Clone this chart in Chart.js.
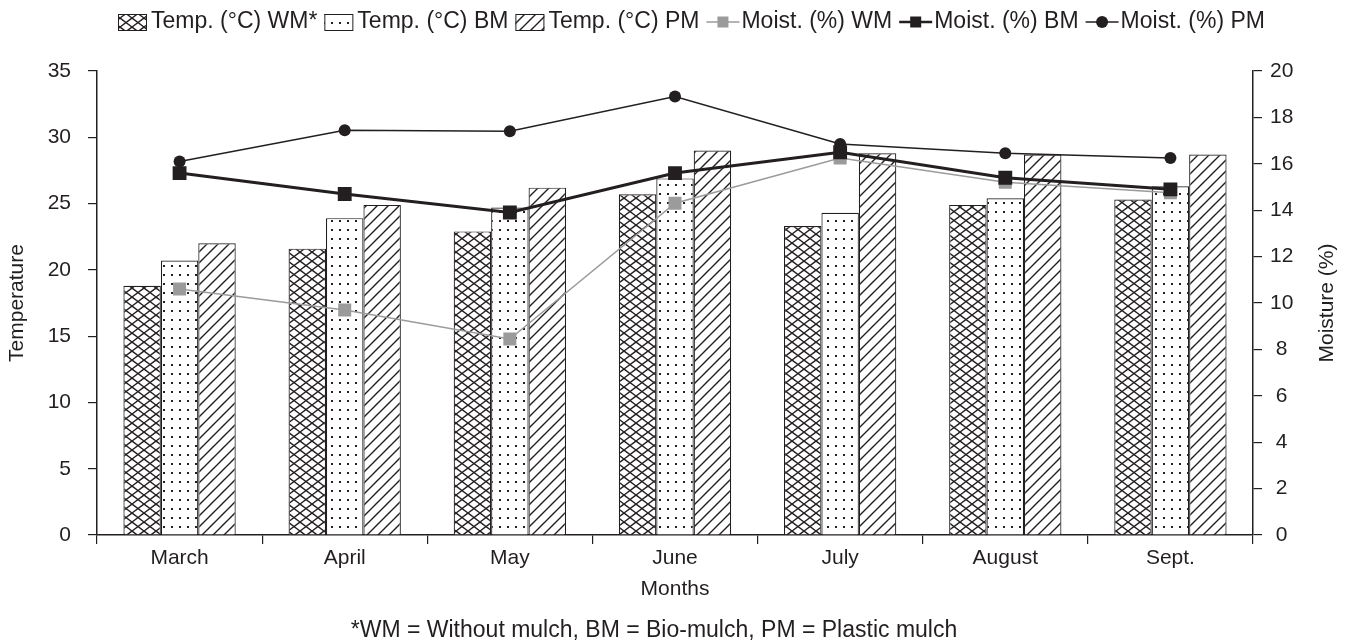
<!DOCTYPE html>
<html>
<head>
<meta charset="utf-8">
<script src="https://cdn.jsdelivr.net/npm/chart.js@4.4.1/dist/chart.umd.min.js"></script>
<style>
  html, body { margin: 0; padding: 0; background: #fff; }
  #wrap { width: 1348px; height: 643px; }
</style>
</head>
<body>
<div id="wrap"><canvas id="moistChart" width="1348" height="643"></canvas></div>
<script>
// dados
const months = ['March', 'April', 'May', 'June', 'July', 'August', 'Sept.'];
const tempWM = [18.8, 21.6, 22.9, 25.7, 23.3, 24.9, 25.3];
const tempBM = [20.7, 23.9, 24.7, 26.9, 24.3, 25.4, 26.3];
const tempPM = [22.0, 24.9, 26.2, 29.0, 28.8, 28.7, 28.7];
const moistWM = [10.6, 9.7, 8.45, 14.3, 16.25, 15.2, 14.75];
const moistBM = [15.6, 14.7, 13.9, 15.6, 16.5, 15.4, 14.9];
const moistPM = [16.1, 17.45, 17.4, 18.9, 16.85, 16.45, 16.25];
const tempTicks = [0, 5, 10, 15, 20, 25, 30, 35];
const moistTicks = [0, 2, 4, 6, 8, 10, 12, 14, 16, 18, 20];

const ink = '#231f20';
const grey = '#9b9b9b';
const fontFam = '"Liberation Sans", Arial, sans-serif';

// padrões das barras
function makeTile(w, h, drawFn) {
    const c = document.createElement('canvas');
    c.width = w; c.height = h;
    const g = c.getContext('2d');
    g.fillStyle = '#fff';
    g.fillRect(0, 0, w, h);
    g.strokeStyle = ink;
    g.fillStyle = ink;
    drawFn(g, w, h);
    return c;
}
const tileCross = makeTile(12, 9, (g, w, h) => {
    g.lineWidth = 1.4;
    g.beginPath();
    g.moveTo(-w, -h); g.lineTo(2 * w, 2 * h);
    g.moveTo(-w, 2 * h); g.lineTo(2 * w, -h);
    g.stroke();
});
const tileDots = makeTile(8, 9, (g) => {
    g.fillRect(3, 4, 2, 2);
});
const tileHatch = makeTile(11, 11, (g, w, h) => {
    g.lineWidth = 1.4;
    g.beginPath();
    g.moveTo(-w, 2 * h); g.lineTo(2 * w, -h);
    g.moveTo(0, 2 * h); g.lineTo(2 * w, 0);
    g.moveTo(-w, h); g.lineTo(w, -h);
    g.stroke();
});
const ctx = document.getElementById('moistChart').getContext('2d');
const patCross = ctx.createPattern(tileCross, 'repeat');
const patDots = ctx.createPattern(tileDots, 'repeat');
const patHatch = ctx.createPattern(tileHatch, 'repeat');

const legendItems = [
    { text: 'Temp. (°C) WM*', kind: 'bar', fill: patCross },
    { text: 'Temp. (°C) BM', kind: 'bar', fill: patDots },
    { text: 'Temp. (°C) PM', kind: 'bar', fill: patHatch },
    { text: 'Moist. (%) WM', kind: 'line', color: grey, lw: 1.5, marker: 'rect' },
    { text: 'Moist. (%) BM', kind: 'line', color: ink, lw: 2.5, marker: 'rect' },
    { text: 'Moist. (%) PM', kind: 'line', color: ink, lw: 1.5, marker: 'circle' }
];

// legenda, título direito e nota de rodapé
const extrasPlugin = {
    id: 'extras',
    afterDraw(chart) {
        const c = chart.ctx;
        c.save();
        c.font = '23px ' + fontFam;
        c.textBaseline = 'middle';
        c.fillStyle = ink;
        let x = 118;
        const yMid = 22;
        legendItems.forEach(item => {
            if (item.kind === 'bar') {
                c.fillStyle = item.fill;
                c.fillRect(x, yMid - 8, 29, 17);
                c.strokeStyle = ink;
                c.lineWidth = 1;
                c.strokeRect(x + 0.5, yMid - 7.5, 28, 16);
                x += 33;
            } else {
                c.strokeStyle = item.color;
                c.lineWidth = item.lw;
                c.beginPath();
                c.moveTo(x, yMid); c.lineTo(x + 33, yMid);
                c.stroke();
                c.fillStyle = item.color;
                if (item.marker === 'rect') {
                    c.fillRect(x + 11, yMid - 5.5, 11, 11);
                } else {
                    c.beginPath();
                    c.arc(x + 16.5, yMid, 6, 0, Math.PI * 2);
                    c.fill();
                }
                x += 35;
            }
            c.fillStyle = ink;
            c.fillText(item.text, x, yMid);
            x += c.measureText(item.text).width + 7;
        });

        // título do eixo direito (lido de baixo para cima)
        c.font = '21px ' + fontFam;
        c.textAlign = 'center';
        c.translate(1327, (chart.chartArea.top + chart.chartArea.bottom) / 2);
        c.rotate(-Math.PI / 2);
        c.fillText('Moisture (%)', 0, 0);
        c.restore();

        c.save();
        c.font = '23px ' + fontFam;
        c.fillStyle = ink;
        c.textAlign = 'center';
        c.textBaseline = 'middle';
        c.fillText('*WM = Without mulch, BM = Bio-mulch, PM = Plastic mulch', 654, 631);
        c.restore();
    }
};

const barBase = {
    type: 'bar',
    yAxisID: 'y',
    borderColor: ink,
    borderWidth: 1.2,
    borderSkipped: 'bottom',
    categoryPercentage: 0.68,
    barPercentage: 1,
    order: 4
};

const moistChart = new Chart(ctx, {
    data: {
        labels: months,
        datasets: [
            { ...barBase, label: 'Temp. (°C) WM*', data: tempWM, backgroundColor: patCross },
            { ...barBase, label: 'Temp. (°C) BM', data: tempBM, backgroundColor: patDots },
            { ...barBase, label: 'Temp. (°C) PM', data: tempPM, backgroundColor: patHatch },
            {
                type: 'line', label: 'Moist. (%) WM', data: moistWM, yAxisID: 'y1',
                borderColor: grey, borderWidth: 1.5, pointStyle: 'rect', pointRadius: 9.2,
                pointBackgroundColor: grey, pointBorderColor: grey, pointBorderWidth: 0,
                tension: 0, order: 2
            },
            {
                type: 'line', label: 'Moist. (%) BM', data: moistBM, yAxisID: 'y1',
                borderColor: ink, borderWidth: 3, pointStyle: 'rect', pointRadius: 9.8,
                pointBackgroundColor: ink, pointBorderColor: ink, pointBorderWidth: 0,
                tension: 0, order: 0
            },
            {
                type: 'line', label: 'Moist. (%) PM', data: moistPM, yAxisID: 'y1',
                borderColor: ink, borderWidth: 1.5, pointStyle: 'circle', pointRadius: 6,
                pointBackgroundColor: ink, pointBorderColor: ink, pointBorderWidth: 0,
                tension: 0, order: 1
            }
        ]
    },
    options: {
        responsive: false,
        animation: false,
        layout: { padding: { top: 71, bottom: 30, left: 0, right: 0 } },
        plugins: {
            legend: { display: false },
            tooltip: { enabled: false }
        },
        scales: {
            x: {
                offset: true,
                grid: { display: true, offset: true, drawOnChartArea: false, drawTicks: true, tickLength: 9, color: ink, lineWidth: 1.2 },
                border: { display: true, color: ink, width: 1.5 },
                ticks: { color: ink, font: { family: fontFam, size: 21 }, padding: 2 },
                title: { display: true, text: 'Months', color: ink, font: { family: fontFam, size: 21 }, padding: { top: 0, bottom: 11 } },
                afterFit(scale) { scale.height = 78; }
            },
            y: {
                position: 'left',
                min: 0, max: 35,
                afterBuildTicks(scale) { scale.ticks = tempTicks.map(v => ({ value: v })); },
                grid: { display: true, drawOnChartArea: false, drawTicks: true, tickLength: 9, color: ink, lineWidth: 1.2 },
                border: { display: true, color: ink, width: 1.5 },
                ticks: { color: ink, font: { family: fontFam, size: 21 }, padding: 17 },
                title: { display: true, text: 'Temperature', color: ink, font: { family: fontFam, size: 21 }, padding: { top: 5, bottom: 0 } },
                afterFit(scale) { scale.width = 97; }
            },
            y1: {
                position: 'right',
                min: 0, max: 20,
                afterBuildTicks(scale) { scale.ticks = moistTicks.map(v => ({ value: v })); },
                grid: { display: true, drawOnChartArea: false, drawTicks: true, tickLength: 9, color: ink, lineWidth: 1.2 },
                border: { display: true, color: ink, width: 1.5 },
                ticks: { color: ink, font: { family: fontFam, size: 21 }, padding: 8, crossAlign: 'center' },
                afterFit(scale) { scale.width = 95; }
            }
        }
    },
    plugins: [extrasPlugin]
});
</script>
</body>
</html>
